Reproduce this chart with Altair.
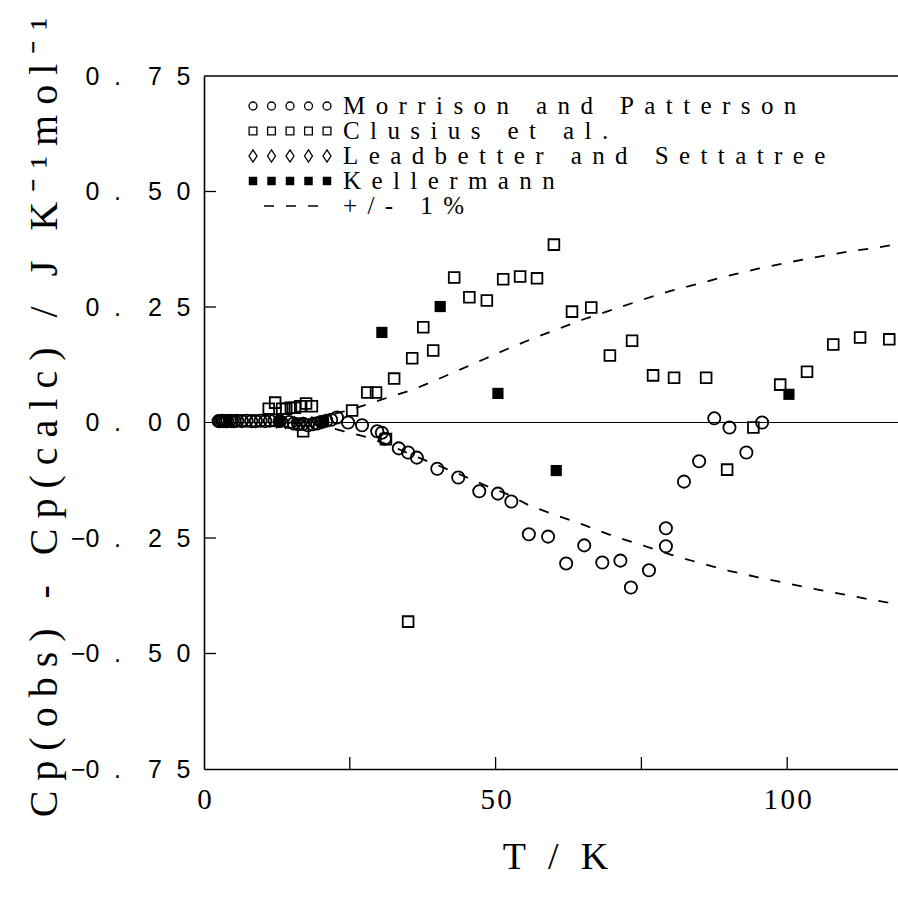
import altair as alt
import pandas as pd

# ---------------- data ----------------
morrison_T = [2.5, 2.8, 3.1, 3.4, 3.7, 4.0, 4.4, 4.8, 5.2, 5.7,
              6.5, 7.3, 8.1, 8.9, 9.7, 10.5, 11.3, 12.1, 13.0,
              14.6, 15.4, 16.2, 17.0, 17.8, 18.6, 19.4, 20.2, 21.0, 21.8,
              22.8, 24.7, 27.1, 29.7, 30.5, 31.0, 33.4, 35.0, 36.5, 40.0,
              43.6, 47.2, 50.4, 52.7, 55.7, 59.0, 62.1, 65.2, 68.3, 71.4,
              73.2, 76.3, 79.2, 79.2, 82.3, 84.9, 87.5, 90.1, 93.0, 95.7]
morrison_dCp = [0.003, 0.003, 0.004, 0.003, 0.003, 0.003, 0.004, 0.003, 0.003, 0.004,
                0.003, 0.004, 0.003, 0.003, 0.004, 0.003, 0.004, 0.005, 0.003,
                0.001, -0.002, -0.004, -0.003, -0.006, -0.004, -0.002, 0.001, 0.004, 0.006,
                0.011, 0.000, -0.006, -0.019, -0.022, -0.035, -0.056, -0.065, -0.076, -0.100,
                -0.119, -0.149, -0.154, -0.171, -0.242, -0.247, -0.305, -0.266, -0.303, -0.299,
                -0.357, -0.320, -0.229, -0.268, -0.128, -0.084, 0.009, -0.011, -0.065, 0.000]

clusius_T = [11.1, 12.2, 13.4, 14.1, 14.9, 15.6, 16.5, 17.5, 18.5, 17.0,
             25.4, 28.0, 29.5, 31.2, 32.6, 35.7, 37.6, 39.3, 42.9, 45.5, 48.5,
             51.3, 54.2, 57.1, 60.0, 63.1, 66.4, 69.6, 73.4, 77.0, 80.6,
             86.1, 89.7, 94.2, 98.8, 103.4, 107.9, 112.5, 117.5, 35.0]
clusius_dCp = [0.030, 0.043, 0.030, 0.030, 0.032, 0.032, 0.035, 0.041, 0.035, -0.019,
               0.026, 0.065, 0.065, -0.036, 0.095, 0.139, 0.206, 0.156, 0.314, 0.271, 0.264,
               0.310, 0.316, 0.312, 0.385, 0.240, 0.249, 0.145, 0.177, 0.102, 0.097,
               0.097, -0.102, -0.011, 0.082, 0.110, 0.169, 0.184, 0.180, -0.431]

leadbetter_T = [12.5, 14.0, 15.5, 17.0, 18.5, 20.0]
leadbetter_dCp = [0.001, -0.001, 0.000, -0.002, 0.000, 0.001]

kellermann_T = [12.9, 20.5, 30.5, 40.5, 50.4, 60.4, 100.3]
kellermann_dCp = [0.002, 0.003, 0.195, 0.251, 0.063, -0.104, 0.061]

pct_T = [15, 20, 24, 28, 32, 36, 40, 44, 48, 52, 56, 60, 65, 70, 75,
         80, 85, 90, 95, 100, 105, 110, 115, 119]
pct_upper = [0.004, 0.012, 0.024, 0.039, 0.056, 0.072, 0.093, 0.115, 0.137, 0.159,
             0.180, 0.199, 0.223, 0.244, 0.265, 0.285, 0.301, 0.318, 0.333, 0.346,
             0.358, 0.369, 0.378, 0.386]
pct_lower = [-0.001, -0.006, -0.019, -0.032, -0.050, -0.072, -0.092, -0.113, -0.135, -0.155,
             -0.181, -0.199, -0.221, -0.245, -0.265, -0.286, -0.304, -0.321, -0.335, -0.348,
             -0.361, -0.373, -0.385, -0.393]

legend_labels = ["Morrison and Patterson", "Clusius et al.",
                 "Leadbetter and Settatree", "Kellermann", "+/- 1%"]

x_tick_values = [0, 50, 100]
x_tick_labels = ["0", "50", "100"]
y_tick_values = [-0.75, -0.5, -0.25, 0.0, 0.25, 0.5, 0.75]
y_tick_labels = ["\u22120. 75", "\u22120. 50", "\u22120. 25", "0. 00", "0. 25", "0. 50", "0. 75"]
x_minor_ticks = [25, 50, 75, 100]
y_minor_ticks = [-0.5, -0.25, 0.25, 0.5]

x_title = "T / K"
y_title = "Cp(obs) - Cp(calc) / J K\u207b\u00b9mol\u207b\u00b9"

# ---------------- helpers ----------------
def spaced(s, gap, space):
    return gap.join(space if c == " " else c for c in s)

def spaced_tick(s):
    # plotter-like wide spacing: "0. 75" -> 0 . 7 5 with wide cells
    g1 = "\u2002\u200a"          # between digits
    out = ""
    prev = ""
    for c in s:
        if c == " ":
            out += "\u2003"
        elif c == "\u2212":
            out += c
        else:
            if prev and prev not in ("\u2212", " "):
                out += g1
            elif prev == " ":
                out += "\u200a"
            out += c
        prev = c
    return out

def label_expr(values, labels):
    expr = "''"
    for v, l in zip(values, labels):
        expr = f"abs(datum.value - ({v})) < 1e-6 ? '{l}' : ({expr})"
    return expr

W, H = 694, 693
SERIF = "Liberation Serif"
SANS = "Liberation Sans"
DIAMOND = "M0,-1L0.65,0L0,1L-0.65,0Z"

xscale = alt.Scale(domain=[0, 119], nice=False, zero=False)
yscale = alt.Scale(domain=[-0.75, 0.75], nice=False, zero=False)

xaxis = alt.Axis(
    values=x_tick_values,
    labelExpr=label_expr(x_tick_values, [spaced(t, "\u200a", " ") for t in x_tick_labels]),
    ticks=False, grid=False, domain=True, domainColor="black", domainWidth=1.6,
    labelFont=SERIF, labelFontSize=29, labelColor="black", labelPadding=16,
    labelFlush=False, labelOverlap=False,
    title=spaced(x_title, "\u2006", " "), titleFont=SERIF, titleFontSize=38,
    titleFontWeight="normal", titleColor="black",
    titleX=351, titleY=99, titleBaseline="alphabetic", titleAlign="center",
)
yaxis = alt.Axis(
    values=y_tick_values,
    labelExpr=label_expr(y_tick_values, [spaced_tick(t) for t in y_tick_labels]),
    ticks=False, grid=False, domain=True, domainColor="black", domainWidth=1.6,
    labelFont=SANS, labelFontSize=25, labelColor="black", labelPadding=14,
    labelFlush=False, labelOverlap=False,
    title=spaced(y_title, "\u2005", " "), titleFont=SERIF, titleFontSize=40,
    titleFontWeight="normal", titleColor="black", titleAngle=270,
    titleX=-148, titleY=341, titleBaseline="alphabetic", titleAlign="center",
)

def ex():
    return alt.X("T:Q", scale=xscale, axis=xaxis)

def ey():
    return alt.Y("v:Q", scale=yscale, axis=yaxis)

# ---------------- frame pieces ----------------
top_border = alt.Chart(pd.DataFrame({"v": [0.75]})).mark_rule(
    color="black", strokeWidth=1.6).encode(y=ey(), x=alt.value(0), x2=alt.value(W))
zero_line = alt.Chart(pd.DataFrame({"v": [0.0]})).mark_rule(
    color="black", strokeWidth=1.2).encode(y=ey(), x=alt.value(0), x2=alt.value(W))
xticks = alt.Chart(pd.DataFrame({"T": x_minor_ticks})).mark_rule(
    color="black", strokeWidth=1.3).encode(x=ex(), y=alt.value(H), y2=alt.value(H - 12))
yticks = alt.Chart(pd.DataFrame({"v": y_minor_ticks})).mark_rule(
    color="black", strokeWidth=1.3).encode(y=ey(), x=alt.value(0), x2=alt.value(12))

# ---------------- curves ----------------
upper = alt.Chart(pd.DataFrame({"T": pct_T, "v": pct_upper})).mark_line(
    color="black", strokeWidth=1.8, strokeDash=[10, 12]).encode(x=ex(), y=ey())
lower = alt.Chart(pd.DataFrame({"T": pct_T, "v": pct_lower})).mark_line(
    color="black", strokeWidth=1.8, strokeDash=[10, 12]).encode(x=ex(), y=ey())

# ---------------- data points ----------------
morrison = alt.Chart(pd.DataFrame({"T": morrison_T, "v": morrison_dCp})).mark_point(
    shape="circle", filled=False, size=150, strokeWidth=1.8, color="black", opacity=1
).encode(x=ex(), y=ey())
clusius = alt.Chart(pd.DataFrame({"T": clusius_T, "v": clusius_dCp})).mark_point(
    shape="square", filled=False, size=115, strokeWidth=1.8, color="black", opacity=1
).encode(x=ex(), y=ey())
leadbetter = alt.Chart(pd.DataFrame({"T": leadbetter_T, "v": leadbetter_dCp})).mark_point(
    shape=DIAMOND, filled=False, size=120, strokeWidth=1.5, color="black", opacity=1
).encode(x=ex(), y=ey())
kellermann = alt.Chart(pd.DataFrame({"T": kellermann_T, "v": kellermann_dCp})).mark_point(
    shape="square", filled=True, size=125, color="black", opacity=1
).encode(x=ex(), y=ey())

# ---------------- legend (drawn inside the plot like the original) ----------------
# positions are in pixels relative to the plot area's top-left corner
leg_row_y = [30, 55, 80, 105, 130]
leg_sym_x = [49, 67.5, 86, 104.5, 123]
leg_text_x = 139
leg_shapes = ["circle", "square", DIAMOND]
leg_sizes = [64, 60, 150]
rows = []
for i, (shp, sz) in enumerate(zip(leg_shapes, leg_sizes)):
    for xx in leg_sym_x:
        rows.append({"px": xx, "py": leg_row_y[i], "shape": shp, "sz": sz})
leg_open = alt.Chart(pd.DataFrame(rows)).mark_point(
    filled=False, strokeWidth=1.3, color="black", opacity=1
).encode(
    x=alt.X("px:Q", scale=None, axis=None),
    y=alt.Y("py:Q", scale=None, axis=None),
    shape=alt.Shape("shape:N", scale=None, legend=None),
    size=alt.Size("sz:Q", scale=None, legend=None),
)
leg_filled = alt.Chart(pd.DataFrame({"px": leg_sym_x, "py": [leg_row_y[3]] * 5})).mark_point(
    shape="square", filled=True, size=72, color="black", opacity=1
).encode(x=alt.X("px:Q", scale=None, axis=None), y=alt.Y("py:Q", scale=None, axis=None))
leg_dash = alt.Chart(pd.DataFrame({"a": [0]})).mark_rule(
    color="black", strokeWidth=1.6, strokeDash=[10, 12]
).encode(x=alt.value(60), x2=alt.value(118), y=alt.value(leg_row_y[4]))
leg_text = alt.Chart(pd.DataFrame({
    "label": [spaced(l, "\u2005\u2006", "\u2005") for l in legend_labels],
    "px": [leg_text_x] * len(legend_labels),
    "py": leg_row_y,
})).mark_text(
    align="left", baseline="middle", font=SERIF, fontSize=25, color="black"
).encode(
    x=alt.X("px:Q", scale=None, axis=None),
    y=alt.Y("py:Q", scale=None, axis=None),
    text="label:N",
)

chart = alt.layer(
    top_border, zero_line, xticks, yticks, upper, lower,
    morrison, clusius, leadbetter, kellermann,
    leg_open, leg_filled, leg_dash, leg_text,
).properties(
    width=W, height=H,
    padding={"left": 204, "top": 76, "right": 0, "bottom": 139},
    autosize=alt.AutoSizeParams(type="none"),
    background="white",
).configure_view(stroke=None)

chart.save("out.html", embed_options={"renderer": "svg", "actions": False})
